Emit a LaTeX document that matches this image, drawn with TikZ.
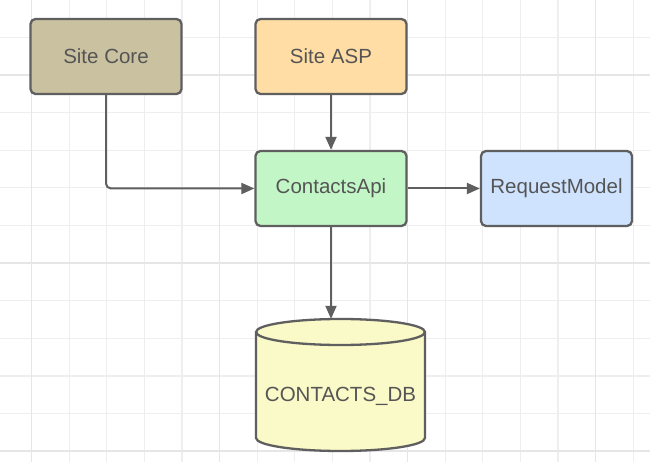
\documentclass[tikz,border=0pt]{standalone}
\usepackage{fontspec}
\setmainfont{Liberation Sans}
\usetikzlibrary{arrows.meta}
\definecolor{gridminor}{HTML}{EEEEEE}
\definecolor{gridmajor}{HTML}{E6E6E6}
\definecolor{edge}{HTML}{5F5F5F}
\definecolor{txt}{HTML}{555555}
\definecolor{corefill}{HTML}{C9C1A0}
\definecolor{aspfill}{HTML}{FFDDA5}
\definecolor{apifill}{HTML}{C3F6C6}
\definecolor{reqfill}{HTML}{CFE3FF}
\definecolor{dbfill}{HTML}{FAF9C8}
\tikzset{
  box/.style={draw=edge, line width=2.3pt, rounded corners=5pt, minimum width=151pt, minimum height=75pt, inner sep=0pt, font=\fontsize{20.5pt}{24pt}\selectfont, text=txt},
  arr/.style={draw=edge, line width=2pt, -{Triangle[length=13pt,width=11pt]}},
}
\begin{document}
\begin{tikzpicture}[x=1pt,y=-1pt]
\useasboundingbox (0,0) rectangle (650,462);
\fill[white] (0,0) rectangle (650,462);
% grid
\foreach \i in {0,...,16} {
  \pgfmathsetmacro{\xx}{31.5+37.6*\i}
  \draw[gridminor, line width=1.2pt] (\xx,0) -- (\xx,462);
}
\foreach \i in {0,...,11} {
  \pgfmathsetmacro{\yy}{37.5+37.6*\i}
  \draw[gridminor, line width=1.2pt] (0,\yy) -- (650,\yy);
}
\foreach \xx in {31.5,219.5,407.5,595.5} \draw[gridmajor, line width=1.4pt] (\xx,0) -- (\xx,462);
\foreach \yy in {75.1,263.1,451.1} \draw[gridmajor, line width=1.4pt] (0,\yy) -- (650,\yy);

% boxes
\node[box, fill=corefill] (core) at (106,56.5) {Site Core};
\node[box, fill=aspfill] (asp) at (331,56.5) {Site ASP};
\node[box, fill=apifill] (api) at (331,188.5) {ContactsApi};
\node[box, fill=reqfill] (req) at (556.5,188.5) {RequestModel};

% cylinder
\path[draw=edge, fill=dbfill, line width=2.3pt]
  (256,332) -- (256,438) arc[start angle=180, end angle=0, x radius=84.5, y radius=13]
  -- (425,332) arc[start angle=0, end angle=-180, x radius=84.5, y radius=13] -- cycle;
\draw[edge, line width=2.3pt] (256,332) arc[start angle=180, end angle=0, x radius=84.5, y radius=13];
\node[minimum width=169pt, minimum height=132pt, inner sep=0pt] (db) at (340.5,385) {};
\node[font=\fontsize{20.5pt}{24pt}\selectfont, text=txt, inner sep=0pt] (dblabel) at (340.5,396) {CONTACTS\_DB};

% connectors
\draw[arr, rounded corners=5pt] (core.south) |- (api.west);
\draw[arr] (asp.south) -- (api.north);
\draw[arr] (api.east) -- (req.west);
\draw[arr] (api.south) -- (api.south |- db.north);
\end{tikzpicture}
\end{document}
